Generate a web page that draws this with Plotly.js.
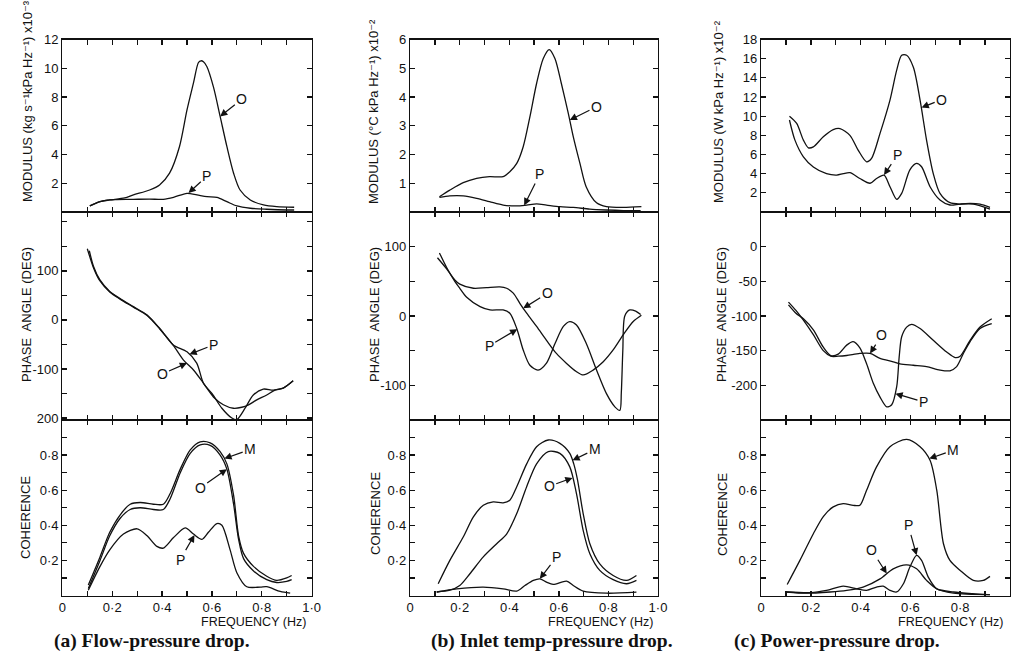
<!DOCTYPE html>
<html>
<head>
<meta charset="utf-8">
<script src="https://cdn.plot.ly/plotly-3.0.1.min.js"></script>
<style>html,body{margin:0;padding:0;background:#fff}#chart{width:1019px;height:657px}</style>
</head>
<body>
<div id="chart"></div>
<script>
// ---------- (a) Flow-pressure drop ----------
const aModO_f = [0.11,0.151,0.19,0.25,0.285,0.35,0.39,0.43,0.47,0.5,0.526,0.546,0.556,0.566,0.58,0.606,0.633,0.66,0.687,0.713,0.754,0.807,0.86,0.93];
const aModO_v = [0.42,0.72,0.84,0.98,1.19,1.53,1.88,2.7,4.56,7.1,8.98,10.4,10.52,10.45,10.1,8.7,6.65,4.56,2.7,1.53,0.84,0.49,0.37,0.33];
const aModP_f = [0.11,0.151,0.19,0.218,0.285,0.35,0.405,0.446,0.5,0.54,0.58,0.62,0.66,0.70,0.754,0.82,0.9,0.93];
const aModP_v = [0.42,0.72,0.84,0.86,0.88,0.9,0.88,1.02,1.3,1.19,1.07,1.02,0.72,0.42,0.26,0.19,0.14,0.14];
const aPhP_f = [0.108,0.125,0.15,0.19,0.23,0.285,0.34,0.39,0.445,0.5,0.539,0.566,0.6,0.64,0.68,0.70,0.733,0.766,0.806,0.846,0.886,0.926];
const aPhP_v = [141,109,82,58,44,27,10,-17,-51,-65,-88,-129,-150,-180,-200,-203,-180,-153,-141,-143,-139,-124];
const aPhO_f = [0.1,0.125,0.15,0.19,0.23,0.285,0.34,0.39,0.445,0.486,0.526,0.566,0.606,0.646,0.686,0.72,0.747,0.78,0.82,0.853,0.886,0.926];
const aPhO_v = [145,106,80,57,43,26,9,-18,-52,-82,-102,-129,-157,-173,-180,-178,-173,-163,-153,-143,-139,-124];
const aCohM_f = [0.104,0.151,0.19,0.232,0.272,0.312,0.365,0.405,0.432,0.473,0.513,0.553,0.593,0.633,0.66,0.687,0.707,0.727,0.767,0.82,0.86,0.9,0.92];
const aCohM_v = [0.06,0.22,0.36,0.46,0.52,0.53,0.52,0.52,0.58,0.72,0.83,0.876,0.87,0.82,0.75,0.57,0.34,0.24,0.166,0.11,0.086,0.1,0.114];
const aCohO_f = [0.104,0.151,0.19,0.232,0.272,0.312,0.365,0.405,0.432,0.473,0.513,0.553,0.593,0.633,0.66,0.687,0.707,0.727,0.767,0.82,0.86,0.9,0.92];
const aCohO_v = [0.04,0.2,0.34,0.44,0.49,0.5,0.49,0.49,0.55,0.70,0.81,0.858,0.855,0.80,0.72,0.52,0.32,0.21,0.14,0.09,0.074,0.08,0.09];
const aCohP_f = [0.104,0.151,0.19,0.245,0.3,0.34,0.379,0.405,0.446,0.493,0.526,0.56,0.586,0.62,0.64,0.673,0.7,0.74,0.794,0.82,0.874,0.914];
const aCohP_v = [0.03,0.166,0.26,0.35,0.38,0.34,0.28,0.27,0.33,0.385,0.35,0.32,0.36,0.41,0.40,0.26,0.13,0.05,0.048,0.05,0.023,0.013];

// ---------- (b) Inlet temp-pressure drop ----------
const bModO_f = [0.118,0.16,0.214,0.268,0.32,0.375,0.402,0.43,0.456,0.483,0.51,0.537,0.561,0.584,0.61,0.638,0.658,0.685,0.71,0.752,0.792,0.86,0.933];
const bModO_v = [0.53,0.76,1.02,1.17,1.23,1.23,1.4,1.69,2.27,3.31,4.47,5.34,5.65,5.34,4.47,3.43,2.62,1.69,0.88,0.32,0.185,0.16,0.185];
const bModP_f = [0.118,0.16,0.214,0.268,0.32,0.375,0.43,0.47,0.51,0.55,0.604,0.658,0.725,0.79,0.86,0.93];
const bModP_v = [0.51,0.56,0.56,0.475,0.36,0.24,0.21,0.24,0.28,0.24,0.185,0.16,0.10,0.07,0.05,0.05];
const bPhO_f = [0.11,0.147,0.18,0.2,0.255,0.308,0.362,0.389,0.416,0.443,0.47,0.51,0.55,0.59,0.63,0.67,0.698,0.738,0.779,0.819,0.86,0.9,0.933];
const bPhO_v = [84,68,52,46,40,41,42,40,33,18,4,-15,-35,-54,-68,-80,-85,-78,-66,-49,-27,-8,1];
const bPhP_f = [0.118,0.147,0.18,0.2,0.228,0.282,0.322,0.375,0.402,0.43,0.456,0.483,0.516,0.55,0.584,0.618,0.644,0.671,0.711,0.752,0.792,0.826,0.846,0.852,0.858,0.866,0.886,0.91,0.93];
const bPhP_v = [91,70,50,40,27,13.5,8.7,8.7,3.9,-18,-49,-71,-78,-68,-40,-15,-8,-13,-40,-78,-112,-131,-136,-110,-50,0,8.7,7,2];
const bCohM_f = [0.113,0.16,0.214,0.255,0.295,0.335,0.375,0.402,0.43,0.47,0.51,0.557,0.604,0.644,0.66,0.675,0.698,0.725,0.765,0.819,0.873,0.913];
const bCohM_v = [0.067,0.2,0.333,0.448,0.514,0.533,0.528,0.543,0.62,0.75,0.848,0.886,0.867,0.81,0.75,0.66,0.467,0.295,0.18,0.114,0.086,0.114];
const bCohO_f = [0.107,0.16,0.2,0.241,0.295,0.349,0.389,0.43,0.47,0.51,0.557,0.604,0.644,0.671,0.698,0.725,0.765,0.819,0.873,0.913];
const bCohO_v = [0.02,0.03,0.057,0.124,0.22,0.295,0.35,0.467,0.62,0.75,0.82,0.81,0.733,0.58,0.371,0.238,0.143,0.09,0.067,0.086];
const bCohP_f = [0.107,0.188,0.295,0.375,0.43,0.463,0.497,0.523,0.55,0.577,0.631,0.658,0.698,0.792,0.913];
const bCohP_v = [0.02,0.038,0.048,0.038,0.025,0.057,0.086,0.095,0.076,0.063,0.082,0.057,0.025,0.013,0.019];

// ---------- (c) Power-pressure drop ----------
const cModO_f = [0.114,0.143,0.17,0.19,0.21,0.25,0.29,0.317,0.357,0.39,0.424,0.444,0.478,0.518,0.545,0.565,0.585,0.612,0.639,0.665,0.692,0.719,0.759,0.8,0.84,0.88,0.92];
const cModO_v = [10.0,9.24,7.5,6.7,6.8,7.85,8.6,8.7,8.0,6.46,5.24,5.6,8.2,11.67,14.8,16.35,16.35,15.1,11.67,7.5,4.0,1.94,0.97,0.83,0.9,0.83,0.49];
const cModP_f = [0.114,0.136,0.17,0.21,0.263,0.304,0.33,0.357,0.397,0.438,0.464,0.494,0.518,0.545,0.565,0.598,0.625,0.645,0.679,0.719,0.759,0.8,0.853,0.92];
const cModP_v = [9.6,7.5,5.76,4.7,4.0,3.85,4.0,4.1,3.5,3.0,3.5,3.85,2.64,1.32,1.94,4.4,5.07,4.72,2.64,1.25,0.73,0.83,0.83,0.31];
const cPhO_f = [0.11,0.14,0.17,0.21,0.25,0.28,0.31,0.344,0.397,0.438,0.478,0.531,0.558,0.612,0.665,0.719,0.759,0.786,0.813,0.84,0.88,0.927];
const cPhO_v = [-80,-92,-106,-127,-150,-158,-158,-157,-154,-154,-161,-166,-169,-171,-173,-178,-179,-173,-154,-137,-118,-111];
const cPhP_f = [0.11,0.14,0.17,0.21,0.25,0.28,0.31,0.344,0.37,0.397,0.424,0.451,0.478,0.505,0.525,0.545,0.555,0.565,0.585,0.605,0.639,0.692,0.746,0.78,0.8,0.84,0.88,0.927];
const cPhP_v = [-84,-96,-104,-120,-145,-157,-155,-142,-137,-146,-169,-197,-217,-231,-228,-202,-159,-130,-116,-112,-118,-135,-152,-160,-158,-135,-116,-104];
const cCohM_f = [0.105,0.156,0.21,0.25,0.29,0.33,0.37,0.397,0.424,0.464,0.518,0.585,0.639,0.679,0.706,0.733,0.759,0.8,0.853,0.893,0.92];
const cCohM_v = [0.063,0.2,0.352,0.45,0.505,0.524,0.514,0.514,0.6,0.733,0.848,0.89,0.848,0.771,0.6,0.295,0.2,0.143,0.086,0.086,0.109];
const cCohO_f = [0.103,0.18,0.277,0.344,0.41,0.478,0.531,0.585,0.625,0.665,0.706,0.773,0.85,0.92];
const cCohO_v = [0.02,0.013,0.02,0.029,0.048,0.095,0.152,0.175,0.152,0.086,0.038,0.02,0.01,0.004];
const cCohP_f = [0.103,0.2,0.263,0.33,0.384,0.424,0.464,0.491,0.518,0.545,0.572,0.598,0.625,0.645,0.672,0.706,0.773,0.92];
const cCohP_v = [0.02,0.016,0.029,0.053,0.038,0.029,0.048,0.053,0.029,0.02,0.067,0.162,0.229,0.2,0.105,0.038,0.013,0.004];

// ---------- tick labels & texts ----------
const xTickVals = [0,0.2,0.4,0.6,0.8,1.0];
const xTickText = ['0','0·2','0·4','0·6','0·8','1·0'];
const cohTickVals = [0.2,0.4,0.6,0.8];
const cohTickText = ['0·2','0·4','0·6','0·8'];
const yTitles = [
  ['MODULUS (kg s⁻¹kPa Hz⁻¹) x10⁻³','PHASE  ANGLE (DEG)','COHERENCE'],
  ['MODULUS (°C kPa Hz⁻¹) x10⁻²','PHASE  ANGLE (DEG)','COHERENCE'],
  ['MODULUS (W kPa Hz⁻¹) x10⁻²','PHASE  ANGLE (DEG)','COHERENCE']
];
const captions = ['(a) Flow-pressure drop.','(b) Inlet temp-pressure drop.','(c) Power-pressure drop.'];

// ---------- geometry (pixels) ----------
const W = 1019, H = 657;
const colPx = [[62.4,311.6],[410.2,658],[761.1,1009.9]];
const rowPx = [[39.5,212],[212,420],[420,595.5]];
const px2x = p => p / W, px2y = p => 1 - p / H;

const yRanges = [
  [[0,12],[-204,220],[0,1]],
  [[0,6],[-150,150],[0,1]],
  [[0,18],[-250,50],[0,1]]
];
const yTicks = [
  [ {vals:[2,4,6,8,10,12], text:['2','4','6','8','10','12'], minor:2},
    {vals:[-200,-100,0,100], text:['200','-100','0','100'], minor:50},
    {vals:cohTickVals, text:cohTickText, minor:0.1} ],
  [ {vals:[1,2,3,4,5,6], text:['1','2','3','4','5','6'], minor:1},
    {vals:[-100,0,100], text:['-100','0','100'], minor:50},
    {vals:cohTickVals, text:cohTickText, minor:0.1} ],
  [ {vals:[2,4,6,8,10,12,14,16,18], text:['2','4','6','8','10','12','14','16','18'], minor:2},
    {vals:[-200,-150,-100,-50,0], text:['-200','-150','-100','-50','0'], minor:50},
    {vals:cohTickVals, text:cohTickText, minor:0.1} ]
];

const FONT = 'Liberation Sans, DejaVu Sans, Arial, sans-serif';
const layout = {
  width: W, height: H,
  margin: {l:0, r:0, t:0, b:0},
  paper_bgcolor: '#fff', plot_bgcolor: '#fff',
  showlegend: false,
  font: {family: FONT, color: '#111', size: 13},
  annotations: []
};

const traces = [];
const series = [
  [ [[aModO_f,aModO_v],[aModP_f,aModP_v]], [[aPhO_f,aPhO_v],[aPhP_f,aPhP_v]], [[aCohM_f,aCohM_v],[aCohO_f,aCohO_v],[aCohP_f,aCohP_v]] ],
  [ [[bModO_f,bModO_v],[bModP_f,bModP_v]], [[bPhO_f,bPhO_v],[bPhP_f,bPhP_v]], [[bCohM_f,bCohM_v],[bCohO_f,bCohO_v],[bCohP_f,bCohP_v]] ],
  [ [[cModO_f,cModO_v],[cModP_f,cModP_v]], [[cPhO_f,cPhO_v],[cPhP_f,cPhP_v]], [[cCohM_f,cCohM_v],[cCohO_f,cCohO_v],[cCohP_f,cCohP_v]] ]
];

const minorStyle = (step, t0) => ({tickmode:'linear', tick0: t0, dtick: step, ticks:'inside', ticklen: 5, tickwidth: 1.3, tickcolor:'#111', showgrid:false});

for (let c = 0; c < 3; c++) {
  for (let r = 0; r < 3; r++) {
    const idx = r*3 + c + 1;
    const xn = idx === 1 ? 'xaxis' : 'xaxis' + idx;
    const yn = idx === 1 ? 'yaxis' : 'yaxis' + idx;
    const xs = idx === 1 ? 'x' : 'x' + idx;
    const ys = idx === 1 ? 'y' : 'y' + idx;
    layout[xn] = {
      domain: [px2x(colPx[c][0]), px2x(colPx[c][1])], anchor: ys,
      range: [0, 1.0], showgrid: false, zeroline: false,
      showline: true, mirror: 'ticks', linecolor: '#111', linewidth: 1.3,
      ticks: 'inside', ticklen: 5, tickwidth: 1.3, tickcolor: '#111',
      tickmode: 'array', tickvals: xTickVals, ticktext: xTickText,
      minor: minorStyle(0.1, 0),
      showticklabels: r === 2, tickfont: {family: FONT, size: 13, color: '#111'}
    };
    const yt = yTicks[c][r];
    layout[yn] = {
      domain: [px2y(rowPx[r][1]), px2y(rowPx[r][0])], anchor: xs,
      range: yRanges[c][r], showgrid: false, zeroline: false,
      showline: true, mirror: 'ticks', linecolor: '#111', linewidth: 1.3,
      ticks: 'inside', ticklen: 5, tickwidth: 1.3, tickcolor: '#111',
      tickmode: 'array', tickvals: yt.vals, ticktext: yt.text,
      minor: minorStyle(yt.minor, 0),
      tickfont: {family: FONT, size: 13, color: '#111'}
    };
    for (const s of series[c][r]) {
      traces.push({x: s[0], y: s[1], xaxis: xs, yaxis: ys, type: 'scatter', mode: 'lines',
        line: {color: '#111', width: 1.3, shape: 'spline', smoothing: 0.8}, hoverinfo: 'skip'});
    }
  }
}

// axis titles (rotated)
const titlePos = [
  [[27,101],[27,315],[25,518]],
  [[373,112],[375,315],[375,514]],
  [[718,112],[722,315],[722,515]]
];
for (let c = 0; c < 3; c++) for (let r = 0; r < 3; r++) {
  layout.annotations.push({xref:'paper', yref:'paper', x: px2x(titlePos[c][r][0]), y: px2y(titlePos[c][r][1]),
    text: yTitles[c][r], textangle: -90, showarrow: false, xanchor:'center', yanchor:'middle',
    font: {family: FONT, size: 13, color:'#111'}});
}
// frequency labels and captions
const freqRight = [308, 655, 1005];
const capLeft = [52, 429, 732];
for (let c = 0; c < 3; c++) {
  layout.annotations.push({xref:'paper', yref:'paper', x: px2x(freqRight[c]), y: px2y(622), text:'FREQUENCY (Hz)',
    showarrow:false, xanchor:'right', yanchor:'middle', font:{family: FONT, size: 12.5, color:'#111'}});
  layout.annotations.push({xref:'paper', yref:'paper', x: px2x(capLeft[c]), y: px2y(641), text:'<b>'+captions[c]+'</b>',
    showarrow:false, xanchor:'left', yanchor:'middle', font:{family:'Liberation Serif, Times New Roman, serif', size: 19.5, color:'#111'}});
}

// curve labels with arrows: [axisIndex, label, x, y, ax, ay]
const curveLabels = [
  [1,'O',0.633,6.65,21.7,-17.3],[1,'P',0.506,1.32,18.3,-16.7],
  [4,'P',0.51,-70,24,-9.3],[4,'O',0.50,-88,-25,11],
  [7,'M',0.65,0.78,25.8,-9.2],[7,'O',0.66,0.72,-26.7,18.7],[7,'P',0.53,0.345,-14.3,24.7],
  [2,'O',0.644,3.2,26.7,-13.3],[2,'P',0.46,0.23,15.7,-31.3],
  [5,'O',0.456,11,24,-15],[5,'P',0.432,-19,-28,16.7],
  [8,'M',0.655,0.77,22.3,-10.9],[8,'O',0.655,0.67,-23.3,8.3],[8,'P',0.523,0.095,16.7,-21.7],
  [3,'O',0.645,10.9,20.1,-8],[3,'P',0.494,3.85,13.3,-20],
  [6,'O',0.438,-154,11.7,-18.3],[6,'P',0.54,-212,28,8.3],
  [9,'M',0.676,0.78,24,-8.3],[9,'O',0.505,0.125,-15,-23.3],[9,'P',0.625,0.229,-8.3,-30]
];
for (const [i, t, x, y, ax, ay] of curveLabels) {
  layout.annotations.push({xref: i===1?'x':'x'+i, yref: i===1?'y':'y'+i, x, y, ax, ay, text: t,
    showarrow: true, arrowhead: 2, arrowsize: 1.2, arrowwidth: 1.2, arrowcolor:'#111', standoff: 0,
    font: {family: FONT, size: 14, color:'#111'}});
}

Plotly.newPlot('chart', traces, layout, {staticPlot: true, displayModeBar: false});
</script>
</body>
</html>
